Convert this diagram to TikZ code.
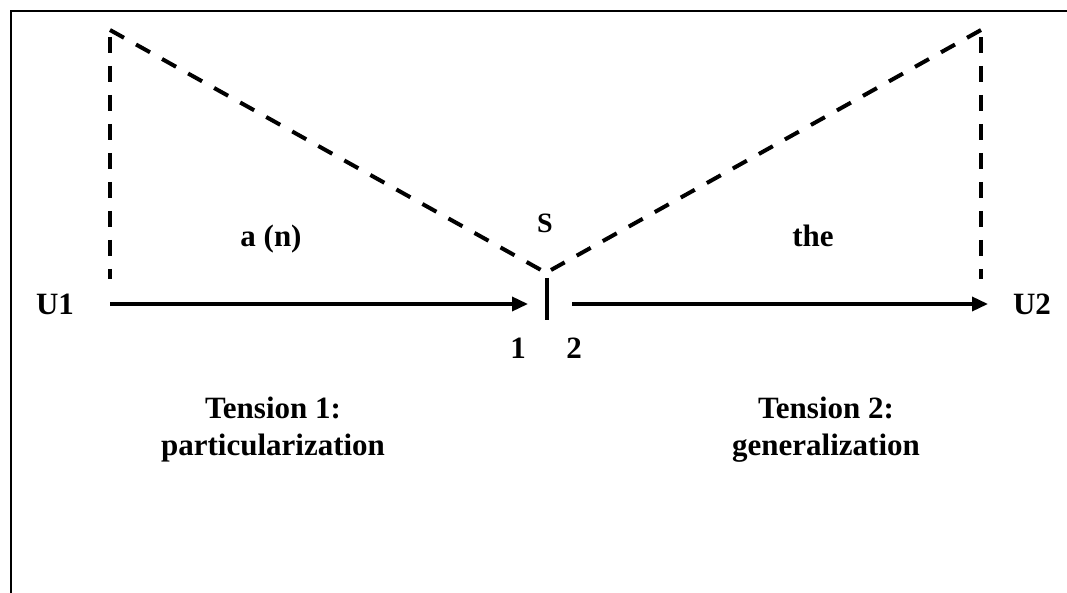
\documentclass[tikz,border=0pt]{standalone}
\usepackage{fontspec}
\setmainfont{Liberation Serif}
\usetikzlibrary{arrows.meta}
\begin{document}
\begin{tikzpicture}[x=1pt,y=-1pt,
  lbl/.style={font=\bfseries\fontsize{31}{37}\selectfont, inner sep=0pt, anchor=base},
  small/.style={font=\bfseries\fontsize{28}{32}\selectfont, inner sep=0pt, anchor=base},
  twoline/.style={font=\bfseries\fontsize{31}{37}\selectfont, inner sep=0pt, anchor=north, align=center},
  dsh/.style={line width=4pt, dash pattern=on 16pt off 13pt},
  dshdiag/.style={line width=4pt, dash pattern=on 16pt off 13.8pt},
  arr/.style={line width=3.5pt, -{Triangle[length=16pt,width=14pt]}},
  bar/.style={line width=4.5pt},
  frame/.style={line width=1.6pt}]
\useasboundingbox (0,0) rectangle (1067,593);
% frame
\coordinate (fr) at (1067,11);
\coordinate (fc) at (11,11);
\coordinate (fb) at (11,593);
\draw[frame] (fr) -- (fc) -- (fb);
% dashed triangle
\coordinate (tl) at (110,30);
\coordinate (tr) at (981,30);
\coordinate (apexl) at (541,270);
\coordinate (apexr) at (551,270);
\coordinate (vlt) at (110,37);
\coordinate (vlb) at (110,279);
\coordinate (vrt) at (981,37);
\coordinate (vrb) at (981,279);
\draw[dshdiag] (tl) -- (apexl);
\draw[dshdiag] (tr) -- (apexr);
\draw[dsh] (vlt) -- (vlb);
\draw[dsh] (vrt) -- (vrb);
% bar
\coordinate (bt) at (547,278);
\coordinate (bb) at (547,320);
\draw[bar] (bt) -- (bb);
% arrows
\coordinate (a1s) at (110,304);
\coordinate (a1e) at (528,304);
\coordinate (a2s) at (572,304);
\coordinate (a2e) at (988,304);
\draw[arr] (a1s) -- (a1e);
\draw[arr] (a2s) -- (a2e);
% labels
\node[lbl] (U1) at (55,315) {U1};
\node[lbl] (U2) at (1032,315) {U2};
\node[lbl] (an) at (271,247) {a (n)};
\node[lbl] (the) at (813,247) {the};
\node[small] (S) at (545,233) {S};
\node[lbl] (one) at (518,358) {1};
\node[lbl] (two) at (574,358) {2};
\node[twoline] (t1) at (273,397) {Tension 1:\\particularization};
\node[twoline] (t2) at (826,397) {Tension 2:\\generalization};
\end{tikzpicture}
\end{document}
